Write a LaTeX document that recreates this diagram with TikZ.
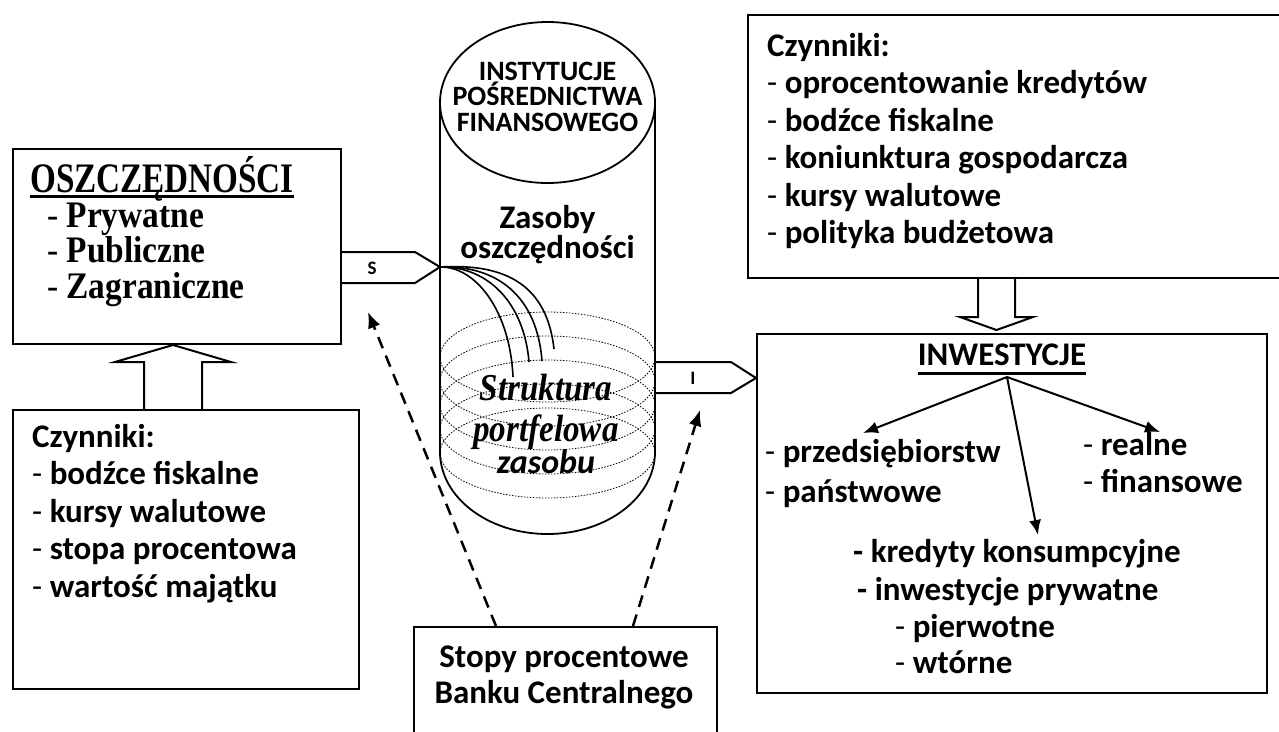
\documentclass[tikz,border=0pt]{standalone}
\usepackage{fontspec}
\setmainfont{Carlito}
\newfontfamily\serifhead[FakeStretch=0.79]{Liberation Serif}
\newfontfamily\seriflist[FakeStretch=0.89]{Liberation Serif}
\newfontfamily\serifital[FakeStretch=0.87]{Liberation Serif}
\usetikzlibrary{arrows.meta,calc}

% multi-line nodes are placed by the baseline of their last line
\newcommand\tightlines{\lineskiplimit=-50pt\relax}

\begin{document}
\begin{tikzpicture}[x=1pt,y=-1pt,
  frame/.style={draw,line width=2pt,inner sep=0pt,anchor=north west},
  body/.style={inner sep=0pt,align=left,anchor=base west,
    font=\fontsize{33}{37.5}\selectfont\bfseries\tightlines},
  pointer/.style={-{Latex[length=15pt,width=12pt]},line width=2pt},
  hint/.style={-{Latex[length=16pt,width=13pt]},line width=2.5pt,
    dash pattern=on 12pt off 8pt},
  layer/.style={line width=0.8pt,dash pattern=on 1.5pt off 1.5pt},
  pipe/.style={line width=1.8pt},
  flow/.style={line width=1.6pt},
  hollow/.style={line width=2pt,line join=miter},
  tag/.style={inner sep=0pt,font=\fontsize{19}{19}\selectfont\bfseries},
]
\useasboundingbox (0,0) rectangle (1279,731);
\clip (0,0) rectangle (1279,731);

% ---------- boxes ----------
\node[frame,minimum width=328,minimum height=195] (osz) at (12,148) {};
\node[frame,minimum width=346,minimum height=279] (czL) at (12,409) {};
\node[frame,minimum width=545,minimum height=263] (czR) at (747,14) {};
\node[frame,minimum width=510,minimum height=359] (inw) at (756,333) {};
\node[frame,minimum width=303,minimum height=140] (stopy) at (413,626) {};

% ---------- savings box ----------
\node[inner sep=0pt,anchor=base west,
  font=\serifhead\fontsize{42}{42}\selectfont\bfseries] (oszh) at (30,192) {OSZCZĘDNOŚCI};
\draw[line width=3pt] ($(oszh.base west)+(0,4)$) -- ($(oszh.base east)+(0,4)$);
\node[inner sep=0pt,anchor=base west,align=left,
  font=\seriflist\fontsize{37.5}{35.5}\selectfont\bfseries\tightlines] (oszl) at (47,298)
  {{\mdseries-} Prywatne\\{\mdseries-} Publiczne\\{\mdseries-} Zagraniczne};

% ---------- factor boxes ----------
\node[body] (czLt) at (32,597)
  {Czynniki:\\{\mdseries-} bodźce fiskalne\\{\mdseries-} kursy walutowe\\
   {\mdseries-} stopa procentowa\\{\mdseries-} wartość majątku};
\node[body] (czRt) at (767,243.5)
  {Czynniki:\\{\mdseries-} oprocentowanie kredytów\\{\mdseries-} bodźce fiskalne\\
   {\mdseries-} koniunktura gospodarcza\\{\mdseries-} kursy walutowe\\
   {\mdseries-} polityka budżetowa};

% ---------- central bank box ----------
\node[inner sep=0pt,align=center,anchor=base,
  font=\fontsize{33}{36}\selectfont\bfseries\tightlines] (stopyt) at (564,703)
  {Stopy procentowe\\Banku Centralnego};

% ---------- intermediary cylinder ----------
\draw[pipe] (547.5,102.5) ellipse [x radius=107.5, y radius=80.5];
\draw[pipe] (440,102.5) -- (440,452)
  .. controls (440,497.3) and (488.1,534) .. (547.5,534)
  .. controls (606.9,534) and (655,497.3) .. (655,452) -- (655,102.5);
\foreach \cy in {357,381,405,429,453}
  \draw[layer] (547.5,\cy) ellipse [x radius=107.5, y radius=45];

\node[inner sep=0pt,align=center,anchor=base,
  font=\fontsize{28}{25.5}\selectfont\bfseries\tightlines] (inst) at (547.5,131)
  {INSTYTUCJE\\POŚREDNICTWA\\FINANSOWEGO};
\node[inner sep=0pt,align=center,anchor=base,
  font=\fontsize{33}{30}\selectfont\bfseries\tightlines] (zas) at (547.5,258)
  {Zasoby\\oszczędności};
\node[inner sep=0pt,align=center,anchor=base,
  font=\serifital\fontsize{38}{41}\selectfont\bfseries\itshape\tightlines] (struk) at (546,441)
  {Struktura\\portfelowa};
\node[inner sep=0pt,anchor=base,
  font=\fontsize{34}{34}\selectfont\bfseries\itshape] (zasobu) at (546,473) {zasobu};

% ---------- S and I flow arrows ----------
\coordinate (stip) at (440,267);
\draw[hollow] (340,252) -- (415,252) -- (stip) -- (415,283) -- (340,283);
\node[tag] (S) at (372,268) {S};
\coordinate (itip) at (756,378);
\draw[hollow] (655,362) -- (731,362) -- (itip) -- (731,393) -- (655,393);
\node[tag] (I) at (693,378) {I};

% savings pouring into the portfolio
\coordinate (f1) at (513,377);
\coordinate (f2) at (529,362);
\coordinate (f3) at (542,361);
\coordinate (f4) at (554,349);
\draw[flow] (stip) .. controls (475,266) and (510,310) .. (f1);
\draw[flow] (stip) .. controls (487,266) and (524,302) .. (f2);
\draw[flow] (stip) .. controls (497,265) and (537,296) .. (f3);
\draw[flow] (stip) .. controls (507,263) and (547,286) .. (f4);

% ---------- hollow block arrows ----------
\draw[hollow] (144,409) -- (144,362) -- (115,362) -- (173,345) -- (231,362)
  -- (202,362) -- (202,409);
\draw[hollow] (978,277) -- (978,317) -- (960,317) -- (996.5,330) -- (1033,317)
  -- (1015,317) -- (1015,277);

% ---------- central bank influence ----------
\coordinate (sL) at (496,626);
\coordinate (sR) at (633,626);
\coordinate (tL) at (368,312);
\coordinate (tR) at (700,410);
\draw[hint] (sL) -- (tL);
\draw[hint] (sR) -- (tR);

% ---------- investments box ----------
\node[inner sep=0pt,anchor=base,font=\fontsize{33}{33}\selectfont\bfseries]
  (inwh) at (1002,365) {INWESTYCJE};
\draw[line width=3pt] ($(inwh.base west)+(0,8)$) -- ($(inwh.base east)+(0,8)$);
\coordinate (root) at (1007,377);
\coordinate (aL) at (863,433);
\coordinate (aM) at (1038,535);
\coordinate (aR) at (1160,432);
\draw[pointer] (root) -- (aL);
\draw[pointer] (root) -- (aM);
\draw[pointer] (root) -- (aR);

\node[body,font=\fontsize{33}{40}\selectfont\bfseries\tightlines] (kind) at (765,502)
  {{\mdseries-} przedsiębiorstw\\{\mdseries-} państwowe};
\node[body,font=\fontsize{33}{37}\selectfont\bfseries\tightlines] (form) at (1083,492)
  {{\mdseries-} realne\\{\mdseries-} finansowe};
\node[body] (cons) at (853,562) {- kredyty konsumpcyjne};
\node[body] (priv) at (857,600) {- inwestycje prywatne};
\node[body,font=\fontsize{33}{36}\selectfont\bfseries\tightlines] (sub) at (895,673)
  {{\mdseries-} pierwotne\\{\mdseries-} wtórne};
\end{tikzpicture}
\end{document}
